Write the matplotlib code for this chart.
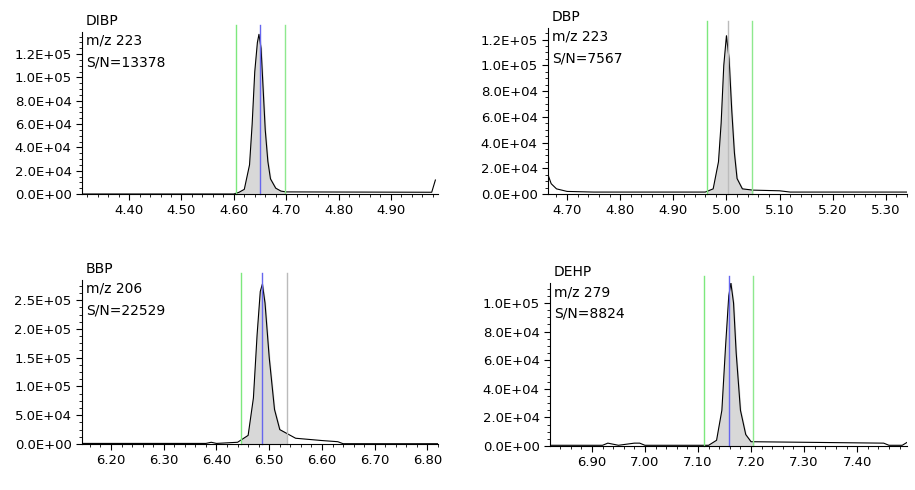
import numpy as np
import matplotlib
matplotlib.use("Agg")
import matplotlib.pyplot as plt
from matplotlib.ticker import MultipleLocator, FuncFormatter

names = ["DIBP", "DBP", "BBP", "DEHP"]
mz = ["223", "223", "206", "279"]
sn = ["13378", "7567", "22529", "8824"]

t1 = [4.31, 4.60, 4.61, 4.62, 4.63, 4.635, 4.64, 4.645, 4.648, 4.652, 4.656, 4.66, 4.665, 4.67, 4.68, 4.69, 4.70, 4.978, 4.985]
y1 = [0, 0, 1500, 4000, 25000, 60000, 105000, 130000, 137000, 125000, 90000, 55000, 28000, 13000, 5000, 2500, 1800, 1500, 12000]
t2 = [4.664, 4.67, 4.68, 4.70, 4.75, 4.96, 4.975, 4.985, 4.99, 4.995, 5.0, 5.005, 5.01, 5.015, 5.02, 5.03, 5.05, 5.10, 5.12, 5.34]
y2 = [15000, 8000, 4000, 2000, 1500, 1500, 4000, 25000, 55000, 100000, 123000, 105000, 65000, 32000, 12000, 4000, 3000, 2500, 1500, 1500]
t3 = [6.145, 6.38, 6.39, 6.40, 6.44, 6.46, 6.47, 6.477, 6.483, 6.487, 6.492, 6.50, 6.51, 6.52, 6.55, 6.60, 6.63, 6.64, 6.82]
y3 = [1000, 1000, 3000, 1000, 3000, 15000, 80000, 190000, 265000, 278000, 245000, 150000, 60000, 25000, 10000, 6000, 4000, 500, 500]
t4 = [6.821, 6.92, 6.93, 6.95, 6.98, 6.99, 7.00, 7.12, 7.135, 7.145, 7.152, 7.158, 7.162, 7.167, 7.172, 7.18, 7.19, 7.20, 7.45, 7.46, 7.485, 7.494]
y4 = [500, 500, 2000, 500, 2000, 2000, 500, 500, 4000, 25000, 70000, 105000, 114000, 100000, 65000, 25000, 8000, 3000, 2000, 500, 500, 2500]

ts = [t1, t2, t3, t4]
ys = [y1, y2, y3, y4]
xlims = [(4.31, 4.99), (4.664, 5.34), (6.145, 6.82), (6.821, 7.494)]
ylims = [1.39e5, 1.29e5, 2.85e5, 1.14e5]
ysteps = [2e4, 2e4, 5e4, 2e4]
win = [(4.605, 4.698), (4.964, 5.049), (6.447, 6.533), (7.111, 7.204)]
rt = [4.65, 5.003, 6.487, 7.158]
mid_col = ["#6666ee", "#bbbbbb", "#6666ee", "#6666ee"]
right_col = ["#8ee88e", "#8ee88e", "#bbbbbb", "#8ee88e"]

fig = plt.figure(figsize=(9.15, 4.9), dpi=100)
W, H = 915, 490
boxes = [(82, 32, 438, 194), (548, 28, 907, 194), (82, 280, 438, 444), (550, 283, 907, 446)]
for i in range(4):
    x0, yt, x1, yb = boxes[i]
    ax = fig.add_axes([x0 / W, 1 - yb / H, (x1 - x0) / W, (yb - yt) / H])
    t = np.array(ts[i]); y = np.array(ys[i])
    m = (t >= win[i][0]) & (t <= win[i][1])
    tt = np.concatenate([[win[i][0]], t[m], [win[i][1]]])
    yy = np.interp(tt, t, y)
    ax.fill_between(tt, 0, yy, color="#d8d8d8")
    ax.plot(t, y, color="black", lw=0.8)
    gtop = 1 + 7 / (yb - yt)
    ax.plot([win[i][0]] * 2, [0, gtop], transform=ax.get_xaxis_transform(), color="#7de87d", lw=1, clip_on=False)
    ax.plot([win[i][1]] * 2, [0, gtop], transform=ax.get_xaxis_transform(), color=right_col[i], lw=1, clip_on=False)
    ax.plot([rt[i]] * 2, [0, gtop], transform=ax.get_xaxis_transform(), color=mid_col[i], lw=1, clip_on=False)
    ax.set_xlim(*xlims[i]); ax.set_ylim(0, ylims[i])
    for s in ["top", "right"]:
        ax.spines[s].set_visible(False)
    ax.xaxis.set_major_locator(MultipleLocator(0.1))
    ax.xaxis.set_minor_locator(MultipleLocator(0.02))
    ax.yaxis.set_major_locator(MultipleLocator(ysteps[i]))
    ax.yaxis.set_minor_locator(MultipleLocator(ysteps[i] / 4))
    ax.xaxis.set_major_formatter(FuncFormatter(lambda v, p: f"{v:.2f}"))
    ax.yaxis.set_major_formatter(FuncFormatter(lambda v, p: f"{v:.1E}"))
    ax.tick_params(labelsize=9.5, length=4, width=0.8)
    ax.tick_params(which="minor", length=2)
    base = yt - 18
    ax.text(x0 / W + 0.004, 1 - base / H, names[i], transform=fig.transFigure, fontsize=10, va="top")
    ax.text(x0 / W + 0.004, 1 - (base + 20) / H, f"m/z {mz[i]}", transform=fig.transFigure, fontsize=10, va="top")
    ax.text(x0 / W + 0.004, 1 - (base + 41) / H, f"S/N={sn[i]}", transform=fig.transFigure, fontsize=10, va="top")

fig.savefig("out.png", dpi=100)
